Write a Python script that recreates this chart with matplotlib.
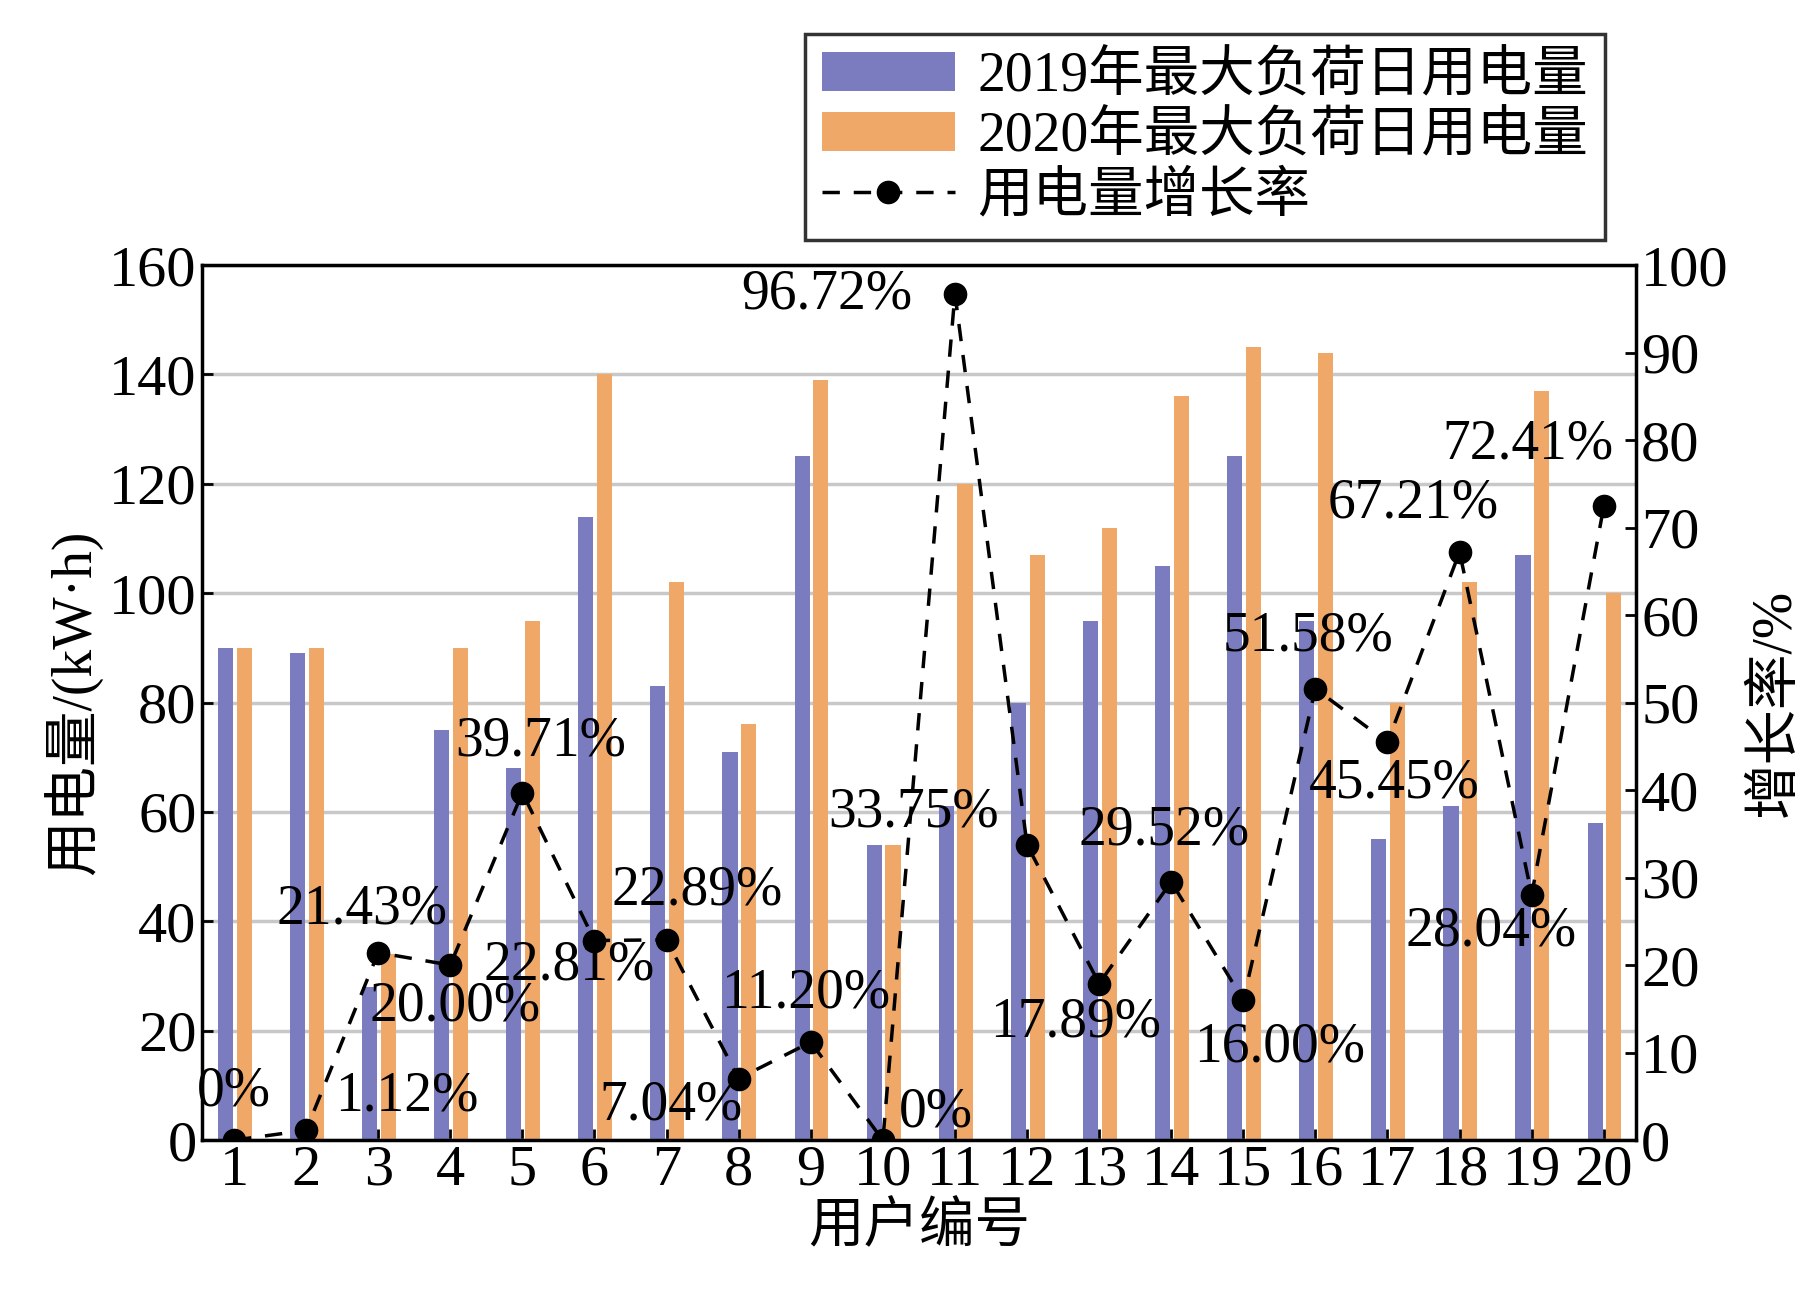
import matplotlib
matplotlib.use("Agg")
import matplotlib.pyplot as plt
import numpy as np

plt.rcParams["font.family"] = ["Liberation Serif", "Noto Sans CJK SC"]

users = list(range(1, 21))
load2019 = [90, 89, 28, 75, 68, 114, 83, 71, 125, 54, 61, 80, 95, 105, 125, 95, 55, 61, 107, 58]
load2020 = [90, 90, 34, 90, 95, 140, 102, 76, 139, 54, 120, 107, 112, 136, 145, 144, 80, 102, 137, 100]
growth = [0, 1.12, 21.43, 20.00, 39.71, 22.81, 22.89, 7.04, 11.20, 0, 96.72, 33.75, 17.89, 29.52, 16.00, 51.58, 45.45, 67.21, 28.04, 72.41]
growth_labels = ["0%", "1.12%", "21.43%", "20.00%", "39.71%", "22.81%", "22.89%", "7.04%", "11.20%", "0%",
                 "96.72%", "33.75%", "17.89%", "29.52%", "16.00%", "51.58%", "45.45%", "67.21%", "28.04%", "72.41%"]
label_pos = [(1.0, 5.6), (3.4, 5.0), (2.78, 26.4), (4.06, 15.3), (5.25, 45.5), (5.65, 20.0), (7.43, 28.5),
             (7.06, 3.9), (8.93, 16.8), (10.74, 3.2), (9.22, 96.6), (10.42, 37.4), (12.67, 13.4), (13.9, 35.4),
             (15.5, 10.6), (15.9, 57.6), (17.1, 40.8), (17.35, 72.8), (18.44, 23.8), (18.95, 79.5)]

fig = plt.figure(figsize=(18.16, 13.12), dpi=100)
ax = fig.add_axes([0.111, 0.131, 0.79, 0.667])
x = np.array(users)
b1 = ax.bar(x - 0.12, load2019, width=0.21, color="#7b7bbf", label="2019年最大负荷日用电量", zorder=2)
b2 = ax.bar(x + 0.14, load2020, width=0.21, color="#f0a868", label="2020年最大负荷日用电量", zorder=2)
ax.set_ylim(0, 160)
ax.set_yticks(range(0, 161, 20))
ax.set_xlim(0.55, 20.45)
ax.set_xticks(users)
ax.yaxis.grid(True, color="#c8c8c8", linewidth=2.5, zorder=0)
ax.set_axisbelow(True)
ax.tick_params(labelsize=42, direction="in", length=8, width=2)
ax.set_ylabel("用电量/(kW·h)", fontsize=40)
ax.set_xlabel("用户编号", fontsize=40)
for s in ax.spines.values():
    s.set_linewidth(2.5)

ax2 = ax.twinx()
l, = ax2.plot(x, growth, "k--", marker="o", markersize=16, linewidth=2.5, dashes=(5, 4),
              label="用电量增长率", zorder=3)
ax2.set_ylim(0, 100)
ax2.set_yticks(range(0, 101, 10))
ax2.tick_params(labelsize=42, direction="in", length=8, width=2)
ax2.set_ylabel("增长率/%", fontsize=40, rotation=90, labelpad=15)
for t, (px, py) in zip(growth_labels, label_pos):
    ax2.text(px, py, t, fontsize=40, ha="center", va="center", zorder=4)

fig.legend(handles=[b1, b2, l], loc="upper left", bbox_to_anchor=(0.428, 0.995),
           fontsize=40, frameon=True, fancybox=False, edgecolor="black",
           handlelength=2.4, borderpad=0.3, labelspacing=0.15, handletextpad=0.4).get_frame().set_linewidth(2.5)

fig.savefig("out.png", dpi=100)
